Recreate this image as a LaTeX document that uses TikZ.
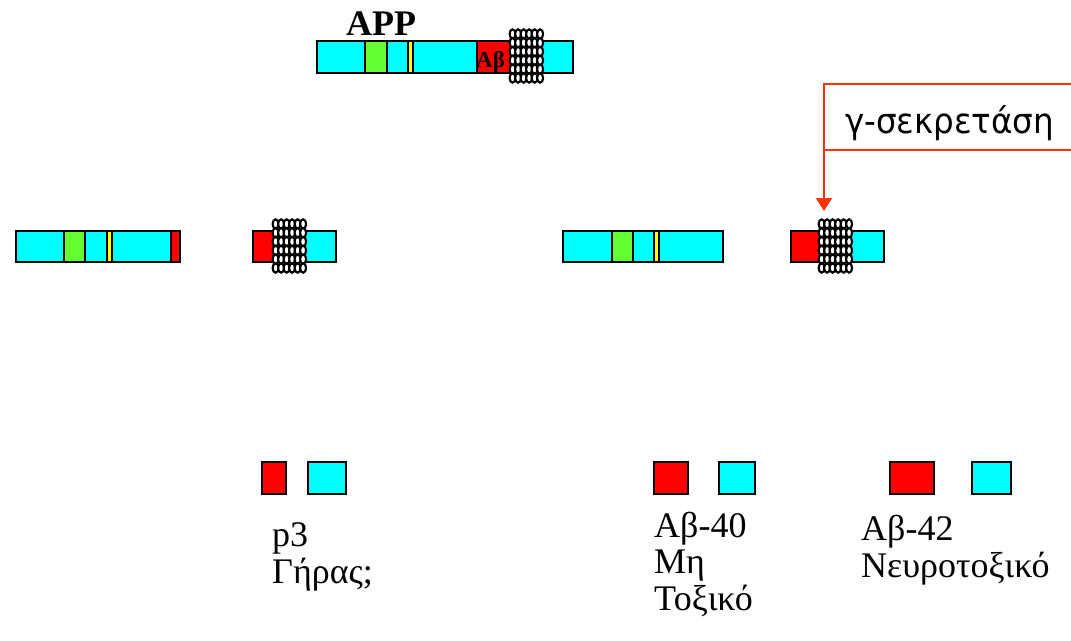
\documentclass[tikz,border=0pt]{standalone}
\usepackage{fontspec}
\setmainfont{Liberation Serif}
\newfontfamily\gsans[FakeStretch=0.93]{DejaVu Sans}
\usetikzlibrary{arrows.meta}

\definecolor{segcyan}{HTML}{00FFFF}
\definecolor{seggreen}{HTML}{66FF33}
\definecolor{segyellow}{HTML}{FFFF00}
\definecolor{segred}{HTML}{FF0000}
\definecolor{enzyme}{HTML}{FF3300}

\tikzset{
  seg/.style={draw=black, line width=1.5pt, inner sep=0pt, outer sep=0pt, anchor=north west},
  coilring/.style={draw=black, fill=white, line width=2.1pt},
  lbl/.style={anchor=base west, inner sep=0pt, font=\fontsize{36}{40}\selectfont},
  enzbox/.style={draw=enzyme, line width=1.5pt, fill=white, anchor=north west,
    outer sep=0pt, inner sep=0pt},
  enztext/.style={anchor=base west, inner sep=0pt, font=\gsans\fontsize{35}{38}\selectfont},
  enzarrow/.style={draw=enzyme, line width=1.6pt, -{Triangle[width=16pt,length=13pt,fill=enzyme]}}
}

% a coloured block of a protein bar: name, x1, x2, y1, y2, colour
\newcommand\segment[6]{%
  \node[seg, fill=#6, minimum width={(#3-#2)*1pt}, minimum height={(#5-#4)*1pt}] (#1) at (#2,#4) {};}

% membrane helix drawn as a stack of small rings, top-left corner given
\newcommand\coilat[2]{%
  \foreach \r in {0,...,5}{%
    \foreach \c in {0,...,5}{%
      \draw[coilring] ({#1+3.6+\c*5.5},{#2+5.0+\r*8.8}) ellipse [x radius=3.0pt, y radius=4.7pt];}}}

\begin{document}
\begin{tikzpicture}[x=1pt, y=-1pt]
  \useasboundingbox (0,0) rectangle (1071,640);
  \fill[white] (0,0) rectangle (1071,640);
  \clip (0,0) rectangle (1071,640);

  % full-length precursor
  \node[anchor=base west, inner sep=0pt, font=\bfseries\fontsize{36}{40}\selectfont] (applbl) at (346,35) {APP};
  \segment{app}{317}{573}{41}{73}{segcyan}
  \segment{appg}{365}{387}{41}{73}{seggreen}
  \segment{appy}{408}{413}{41}{73}{segyellow}
  \segment{appr}{477}{514}{41}{73}{segred}
  \node[anchor=base west, inner sep=0pt, font=\bfseries\fontsize{23}{26}\selectfont] (abl) at (476,67) {Aβ};
  \coilat{509}{29}

  % fragments, left pathway
  \segment{la}{16}{180}{231}{262}{segcyan}
  \segment{lag}{64}{85}{231}{262}{seggreen}
  \segment{lay}{107}{112}{231}{262}{segyellow}
  \segment{lar}{171}{180}{231}{262}{segred}
  \segment{lb}{253}{336}{231}{262}{segcyan}
  \segment{lbr}{253}{277}{231}{262}{segred}
  \coilat{272}{219}

  % fragments, right pathway
  \segment{ra}{563}{723}{231}{262}{segcyan}
  \segment{rag}{612}{633}{231}{262}{seggreen}
  \segment{ray}{654}{659}{231}{262}{segyellow}
  \segment{rb}{791}{884}{231}{262}{segcyan}
  \segment{rbr}{791}{825}{231}{262}{segred}
  \coilat{818}{219}

  % gamma-secretase cut
  \node[enzbox, minimum width=270pt, minimum height=66pt] (gsec) at (824,84) {};
  \node[enztext] (gsectxt) at (845,133) {γ-σεκρετάση};
  \coordinate (cut) at (824,211);
  \draw[enzarrow] (gsec.south west) -- (cut);

  % released peptides
  \segment{p3r}{262}{286}{462}{494}{segred}
  \segment{p3c}{308}{346}{462}{494}{segcyan}
  \segment{a40r}{654}{688}{462}{494}{segred}
  \segment{a40c}{719}{755}{462}{494}{segcyan}
  \segment{a42r}{890}{934}{462}{494}{segred}
  \segment{a42c}{972}{1011}{462}{494}{segcyan}

  \node[lbl] (p3a) at (272,546) {p3};
  \node[lbl] (p3b) at (272,583) {Γήρας;};
  \node[lbl] (a40a) at (654,537) {Aβ-40};
  \node[lbl] (a40b) at (654,573) {Μη};
  \node[lbl] (a40c) at (654,610) {Τοξικό};
  \node[lbl] (a42a) at (861,540) {Aβ-42};
  \node[lbl] (a42b) at (861,577) {Νευροτοξικό};
\end{tikzpicture}
\end{document}
